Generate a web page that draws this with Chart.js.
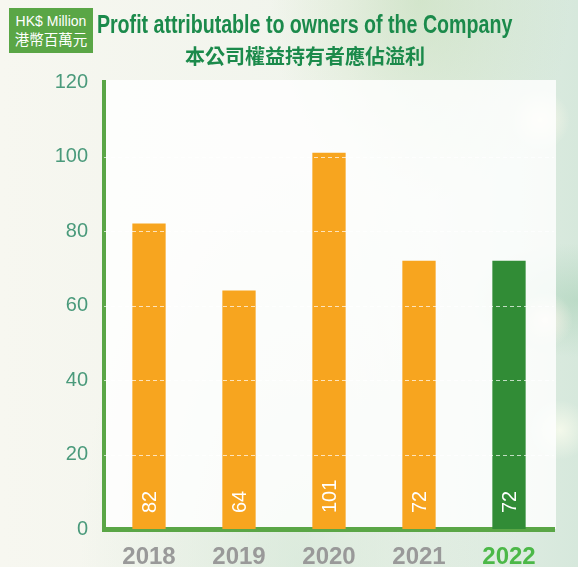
<!DOCTYPE html>
<html>
<head>
<meta charset="utf-8">
<script src="https://cdn.jsdelivr.net/npm/chart.js@4"></script>
<style>
  html, body { margin: 0; padding: 0; }
  body {
    width: 578px; height: 567px; overflow: hidden; position: relative;
    background:
      radial-gradient(circle at 540px 120px, rgba(255,250,235,0.8) 0, rgba(255,250,235,0) 30px),
      radial-gradient(circle at 545px 320px, rgba(255,245,235,0.8) 0, rgba(255,245,235,0) 28px),
      radial-gradient(circle at 560px 430px, rgba(255,255,240,0.7) 0, rgba(255,255,240,0) 30px),
      radial-gradient(ellipse at 420px 0px, rgba(185,215,170,0.45) 0, rgba(185,215,170,0) 150px),
      radial-gradient(ellipse at 578px 300px, rgba(170,210,185,0.6) 0, rgba(170,210,185,0) 110px),
      radial-gradient(ellipse at 300px 567px, rgba(205,228,210,0.6) 0, rgba(205,228,210,0) 220px),
      linear-gradient(90deg, #f7f7f0 0%, #f0f4ec 60%, #d6e8dc 100%);
  }
  #badge {
    position: absolute; left: 9px; top: 8px; width: 84px; height: 45px; z-index: 2;
    background: #5aa646; color: #fff; text-align: center;
    font-family: "Liberation Sans", Arial, sans-serif;
  }
  #badge .en { font-size: 14px; line-height: 16px; margin-top: 5px; }
  #badge .zh { font-family: "Noto Sans CJK TC", sans-serif; font-size: 14.5px; line-height: 20px; }
  #title {
    position: absolute; left: 0; top: 9px; width: 610px; text-align: center; color: #1b8a4b; z-index: 2;
  }
  #title .en {
    display: inline-block; white-space: nowrap;
    font-family: "Liberation Sans", Arial, sans-serif; font-weight: bold; font-size: 25px; line-height: 30px;
    transform: scaleX(0.785); transform-origin: center;
  }
  #title .zh { font-family: "Noto Sans CJK TC", sans-serif; font-weight: bold; font-size: 20px; line-height: 26px; margin-top: 4px; }
  canvas { position: absolute; left: 0; top: 0; z-index: 1; }
</style>
</head>
<body>
<div id="badge"><div class="en">HK$ Million</div><div class="zh">港幣百萬元</div></div>
<div id="title"><div><span class="en">Profit attributable to owners of the Company</span></div><div class="zh">本公司權益持有者應佔溢利</div></div>
<canvas id="profitChart" width="578" height="567"></canvas>
<script>
const years = ['2018', '2019', '2020', '2021', '2022'];
const profit = [82, 64, 101, 72, 72];
const yMin = 0;
const yMax = 120;
const yStep = 20;

const barColors = years.map((y, i) => i === years.length - 1 ? '#318c36' : '#f7a51f');
const yearColors = years.map((y, i) => i === years.length - 1 ? '#4cb848' : '#999999');

// white panel behind the bars
const panelPlugin = {
  id: 'panel',
  beforeDraw(chart) {
    const { ctx, chartArea: a } = chart;
    ctx.save();
    ctx.fillStyle = 'rgba(255,255,255,0.82)';
    ctx.fillRect(a.left, a.top - 2, a.right - a.left + 2, a.bottom - a.top + 2);
    ctx.restore();
  }
};

// dashed white gridlines, drawn over the bars
const gridPlugin = {
  id: 'gridOver',
  afterDatasetsDraw(chart) {
    const { ctx, chartArea: a, scales } = chart;
    ctx.save();
    ctx.strokeStyle = 'rgba(255,255,255,0.7)';
    ctx.lineWidth = 1.2;
    ctx.setLineDash([4, 3]);
    for (let v = yMin + yStep; v < yMax; v += yStep) {
      const y = Math.round(scales.y.getPixelForValue(v)) + 0.5;
      ctx.beginPath();
      ctx.moveTo(a.left, y);
      ctx.lineTo(a.right, y);
      ctx.stroke();
    }
    ctx.restore();
  }
};

// rotated value labels at the foot of each bar
const valuePlugin = {
  id: 'values',
  afterDraw(chart) {
    const { ctx } = chart;
    const meta = chart.getDatasetMeta(0);
    ctx.save();
    ctx.fillStyle = '#ffffff';
    ctx.font = '20px "Liberation Sans", Arial, sans-serif';
    ctx.textAlign = 'left';
    ctx.textBaseline = 'middle';
    meta.data.forEach((bar, i) => {
      ctx.save();
      ctx.translate(bar.x + 1, bar.base - 16);
      ctx.rotate(-Math.PI / 2);
      ctx.fillText(String(profit[i]), 0, 0);
      ctx.restore();
    });
    ctx.restore();
  }
};

const chart = new Chart(document.getElementById('profitChart').getContext('2d'), {
  type: 'bar',
  data: {
    labels: years,
    datasets: [{
      data: profit,
      backgroundColor: barColors,
      borderWidth: 0,
      categoryPercentage: 1,
      barPercentage: 0.37
    }]
  },
  options: {
    responsive: false,
    animation: false,
    layout: { padding: { left: 0, right: 24, top: 82, bottom: 0 } },
    plugins: {
      legend: { display: false },
      tooltip: { enabled: false }
    },
    scales: {
      x: {
        grid: { display: false },
        border: { color: '#5aa646', width: 5 },
        ticks: {
          color: yearColors,
          padding: 6,
          font: { family: '"Liberation Sans", Arial, sans-serif', size: 24, weight: 'bold' }
        },
        afterFit(scale) { scale.height = 38; }
      },
      y: {
        min: yMin,
        max: yMax,
        grid: { display: false },
        border: { color: '#5aa646', width: 4 },
        ticks: {
          stepSize: yStep,
          color: '#4a9a7b',
          padding: 8,
          font: { family: '"Liberation Sans", Arial, sans-serif', size: 20 }
        },
        afterFit(scale) { scale.width = 104; }
      }
    }
  },
  plugins: [panelPlugin, gridPlugin, valuePlugin]
});
</script>
</body>
</html>
